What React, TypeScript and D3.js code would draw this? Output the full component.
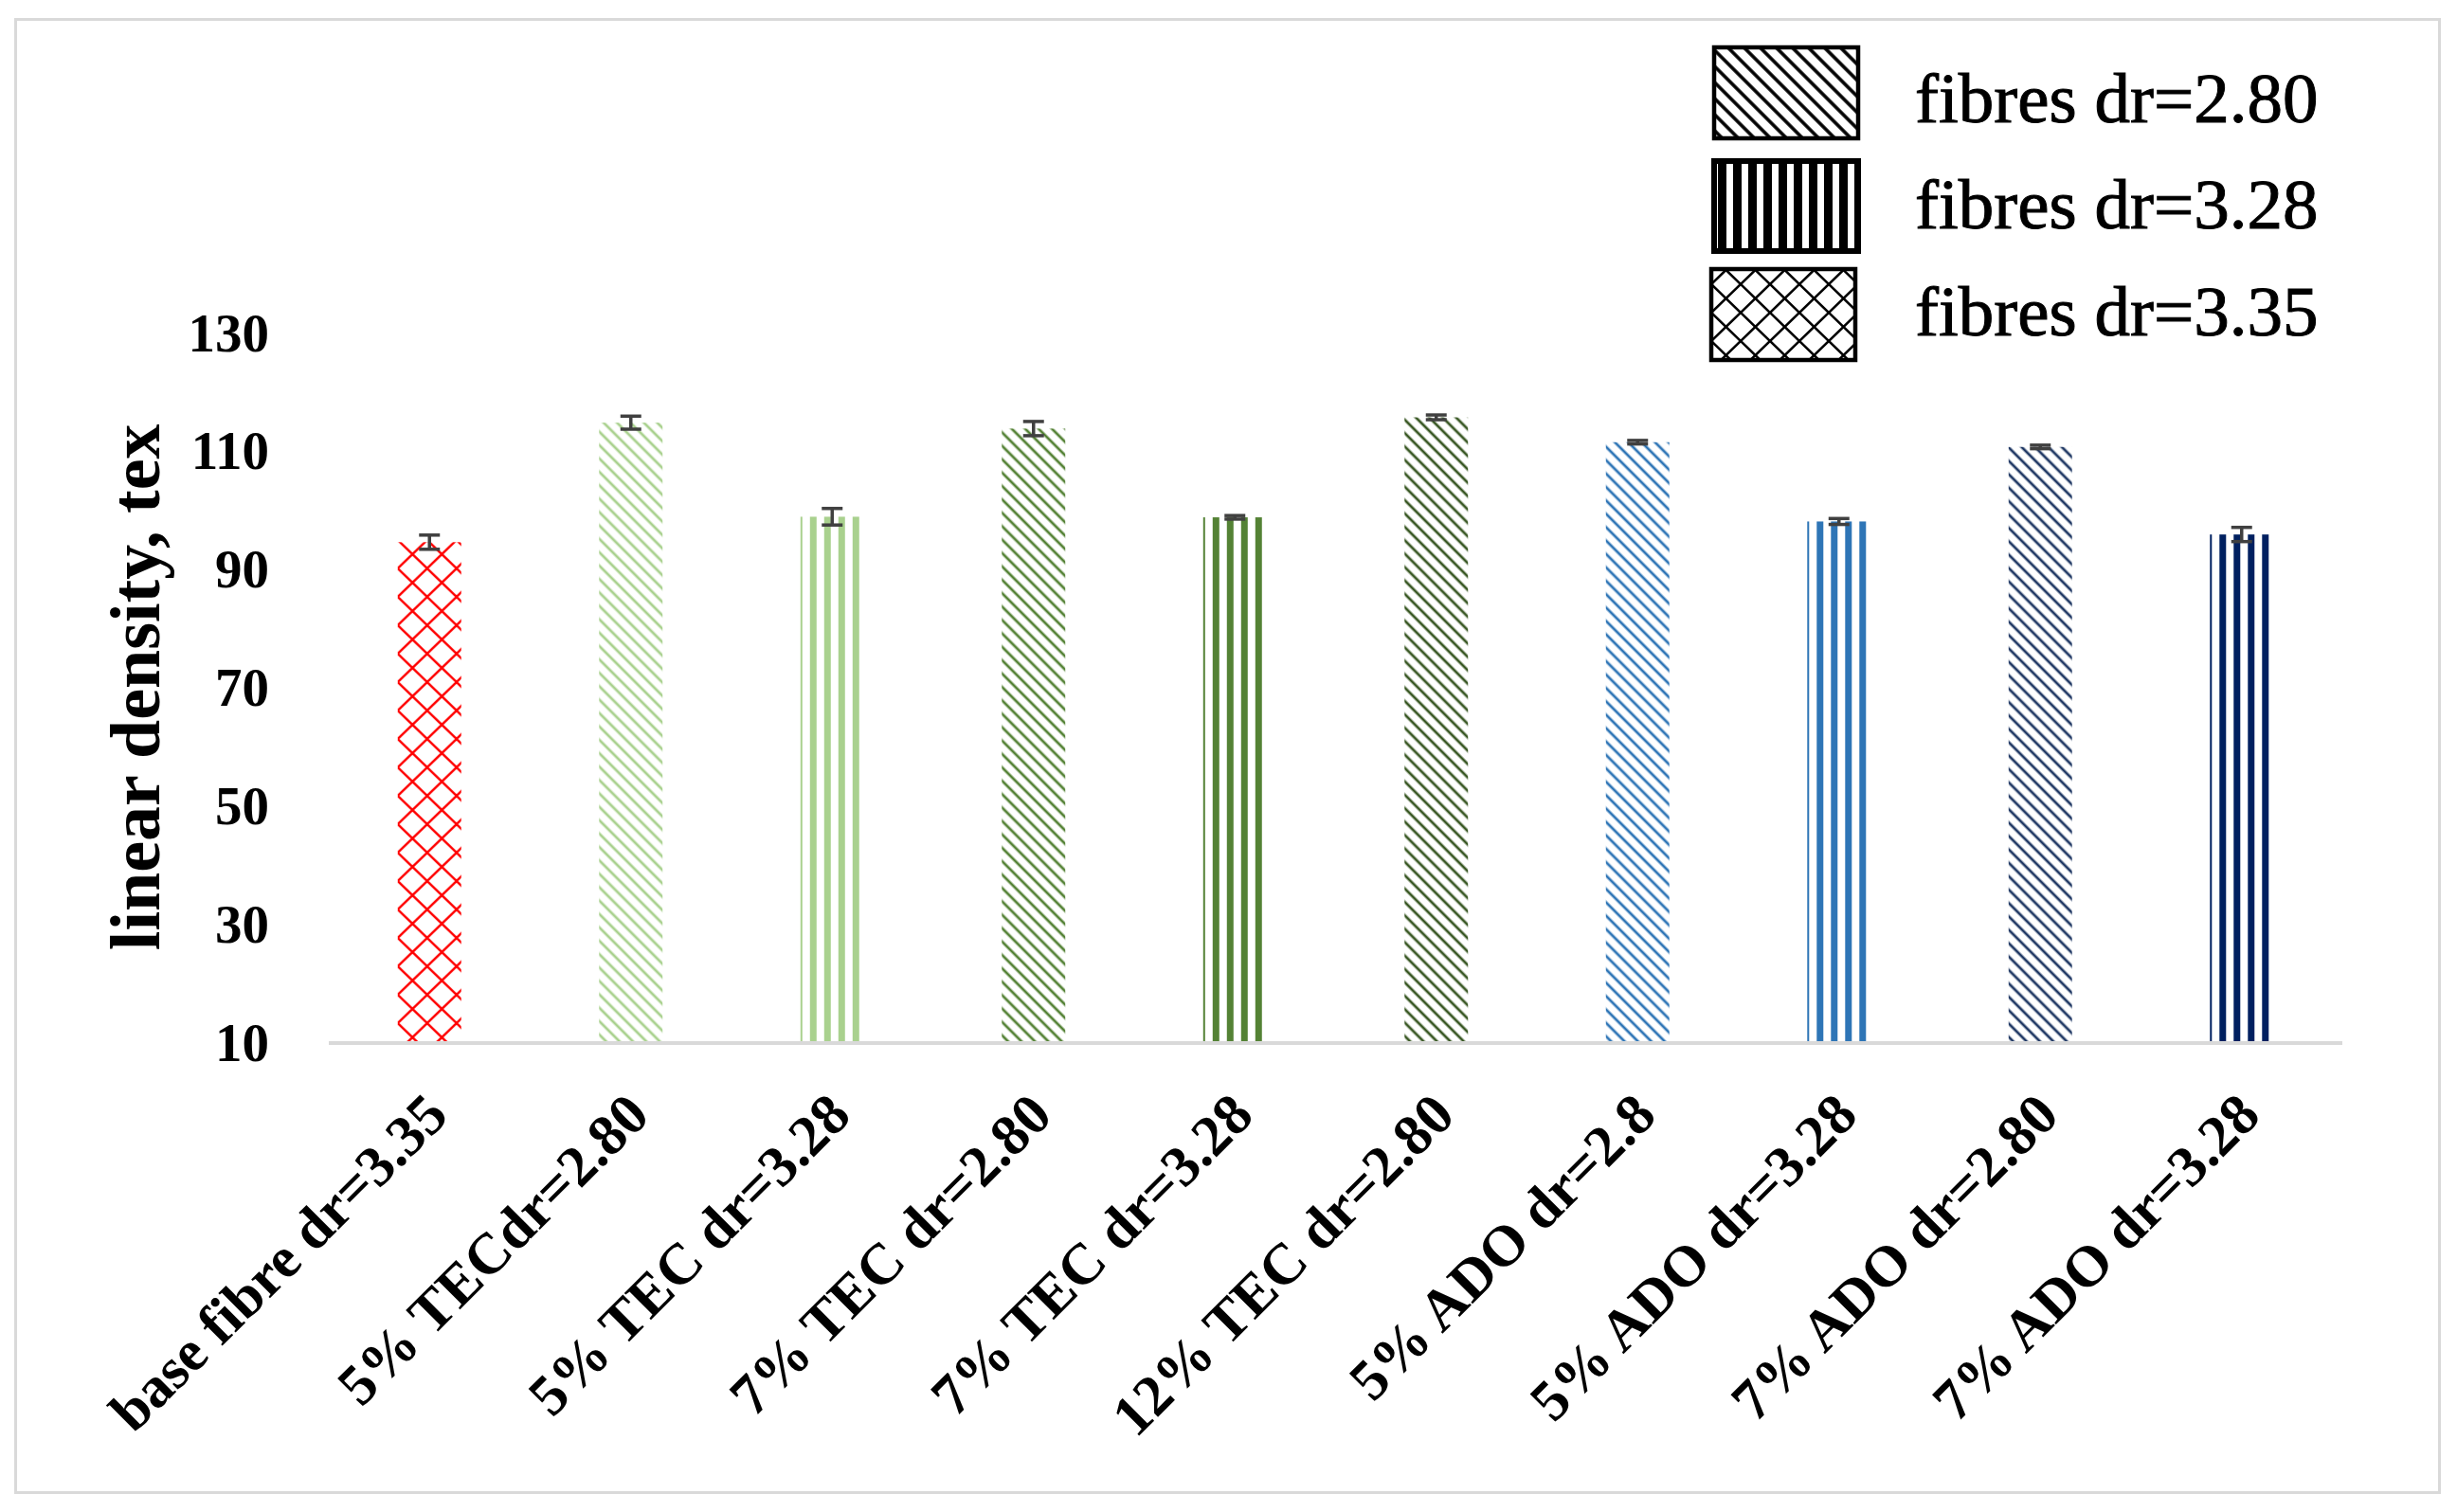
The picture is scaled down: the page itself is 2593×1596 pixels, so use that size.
import React from "react";
import * as d3 from "d3";

const categories = [
  "base fibre dr=3.35",
  "5% TECdr=2.80",
  "5% TEC dr=3.28",
  "7% TEC dr=2.80",
  "7% TEC dr=3.28",
  "12% TEC dr=2.80",
  "5% ADO dr=2.8",
  "5% ADO dr=3.28",
  "7% ADO dr=2.80",
  "7% ADO dr=3.28",
];
const values = [94.5, 114.7, 98.8, 113.7, 98.7, 115.6, 111.4, 98.0, 110.6, 95.8];
const errors = [1.2, 1.1, 1.4, 1.2, 0.3, 0.4, 0.3, 0.5, 0.3, 1.2];
const patterns = ["lattice", "hatch", "vstripe", "hatch", "vstripe", "hatch", "hatch", "vstripe", "hatch", "vstripe"];
const colors = ["#FF0000", "#A9D18E", "#A9D18E", "#548235", "#548235", "#385723", "#2E75B6", "#2E75B6", "#203864", "#002060"];
const yTicks = [10, 30, 50, 70, 90, 110, 130];
const legendLabels = ["fibres dr=2.80", "fibres dr=3.28", "fibres dr=3.35"];
const legendPatterns = ["hatch", "vstripe", "lattice"];

const W = 2593;
const H = 1596;
const plot = { left: 347, right: 2472, top: 350.6, bottom: 1100 };
const FONT = "'Palatino Linotype', 'Book Antiqua', Palatino, 'Liberation Serif', serif";

function PatternDef({ id, kind, color, x0, thick }: { id: string; kind: string; color: string; x0: number; thick?: boolean }) {
  if (kind === "hatch") {
    const s = thick ? 12 : 10;
    return (
      <pattern id={id} patternUnits="userSpaceOnUse" width={s} height={s} patternTransform="rotate(45)">
        <line x1={-1} y1={s / 2} x2={s + 1} y2={s / 2} stroke={color} strokeWidth={thick ? 3.6 : 2.8} />
      </pattern>
    );
  }
  if (kind === "vstripe") {
    const p = thick ? 16 : 15;
    const w = thick ? 9 : 7;
    return (
      <pattern id={id} patternUnits="userSpaceOnUse" x={x0} y={0} width={p} height={20}>
        <rect x={0} y={0} width={w} height={20} fill={color} />
      </pattern>
    );
  }
  const pw = 31;
  const ph = 30;
  return (
    <pattern id={id} patternUnits="userSpaceOnUse" x={x0} y={0} width={pw} height={ph}>
      <line x1={0} y1={0} x2={pw} y2={ph} stroke={color} strokeWidth={thick ? 2.6 : 2.4} strokeLinecap="square" />
      <line x1={pw} y1={0} x2={0} y2={ph} stroke={color} strokeWidth={thick ? 2.6 : 2.4} strokeLinecap="square" />
    </pattern>
  );
}

export default function App() {
  const x = d3.scaleBand<string>().domain(categories).range([plot.left, plot.right]).paddingInner(0.685).paddingOuter(0.3425);
  const y = d3.scaleLinear().domain([10, 130]).range([plot.bottom, plot.top]);
  const bw = x.bandwidth();

  const legendBoxes = [
    { x: 1809, y: 50, w: 152, h: 96 },
    { x: 1809, y: 170, w: 152, h: 95 },
    { x: 1806, y: 284, w: 152, h: 96 },
  ];
  const legendBaselines = [129, 241, 354];

  return (
    <svg width={W} height={H} style={{ position: "absolute", left: 0, top: 0, background: "#fff" }} fontFamily={FONT}>
      <defs>
        {categories.map((c, i) => {
          const bx = x(c)!;
          return (
            <PatternDef key={c} id={`p${i}`} kind={patterns[i]} color={colors[i]} x0={patterns[i] === "vstripe" ? bx - 5 : bx} />
          );
        })}
        {legendPatterns.map((k, i) => (
          <PatternDef key={k} id={`lg${i}`} kind={k} color="#000" x0={legendBoxes[i].x + (k === "vstripe" ? 4 : 0)} thick />
        ))}
      </defs>
      <rect x={0} y={0} width={W} height={H} fill="#fff" />
      <rect x={16.5} y={20.5} width={2558} height={1555} fill="none" stroke="#D9D9D9" strokeWidth={3} />

      {/* y tick labels */}
      {yTicks.map((t) => (
        <text key={t} x={284} y={y(t)} dy="0.35em" textAnchor="end" fontSize={57} fontWeight="bold" fill="#000">
          {t}
        </text>
      ))}
      {/* y title */}
      <text
        transform={`translate(168, ${(plot.top + plot.bottom) / 2}) rotate(-90)`}
        textAnchor="middle"
        fontSize={74}
        fontWeight="bold"
        fill="#000"
      >
        linear density, tex
      </text>

      {/* bars */}
      {categories.map((c, i) => (
        <rect key={c} x={x(c)} y={y(values[i])} width={bw} height={y(10) - y(values[i])} fill={`url(#p${i})`} />
      ))}

      {/* axis line */}
      <line x1={plot.left} x2={plot.right} y1={plot.bottom + 1} y2={plot.bottom + 1} stroke="#D9D9D9" strokeWidth={4} />

      {/* error bars */}
      {categories.map((c, i) => {
        const cx = x(c)! + bw / 2;
        const y1 = y(values[i] + errors[i]);
        const y2 = y(values[i] - errors[i]);
        return (
          <g key={c} stroke="#404040" strokeWidth={3.5}>
            <line x1={cx} x2={cx} y1={y1} y2={y2} />
            <line x1={cx - 11} x2={cx + 11} y1={y1} y2={y1} />
            <line x1={cx - 11} x2={cx + 11} y1={y2} y2={y2} />
          </g>
        );
      })}

      {/* x labels */}
      {categories.map((c) => {
        const cx = x(c)! + bw / 2;
        return (
          <text
            key={c}
            transform={`translate(${cx + 22}, ${plot.bottom + 80}) rotate(-45)`}
            textAnchor="end"
            fontSize={61}
            fontWeight="bold"
            fill="#000"
          >
            {c}
          </text>
        );
      })}

      {/* legend */}
      {legendLabels.map((l, i) => {
        const b = legendBoxes[i];
        return (
          <g key={l}>
            <rect x={b.x} y={b.y} width={b.w} height={b.h} fill={`url(#lg${i})`} stroke="#000" strokeWidth={i === 1 ? 6 : 4.5} />
            <text x={2021} y={legendBaselines[i]} fontSize={75} fill="#000" stroke="#000" strokeWidth={1}>
              {l}
            </text>
          </g>
        );
      })}
    </svg>
  );
}
